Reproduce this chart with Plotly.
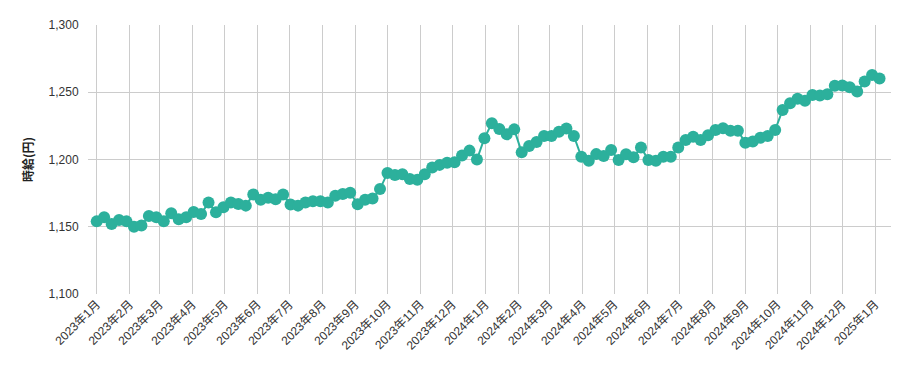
import pandas as pd
import plotly.graph_objects as go

# weekly observations starting 2023-01-01
start_date = "2023-01-01"
wage = [
    1154, 1157, 1152, 1155, 1154, 1150, 1151, 1158, 1157, 1154,
    1160, 1155.5, 1157, 1161, 1159.5, 1168, 1160.7, 1164.5, 1168, 1167,
    1165.7, 1174, 1170, 1171.6, 1170.4, 1174, 1166.5, 1165.7, 1168, 1169,
    1169, 1168, 1173, 1174.4, 1175.3, 1166.7, 1170, 1171, 1178, 1190,
    1188.5, 1189, 1185.5, 1185, 1189, 1194, 1196, 1197.6, 1198, 1203,
    1206.6, 1200, 1215.8, 1227, 1222.7, 1218.7, 1222.4, 1205.3, 1210, 1213,
    1217.5, 1217.5, 1220.7, 1223, 1217.5, 1202, 1199, 1204, 1202.6, 1207,
    1199.6, 1203.9, 1201.6, 1209, 1199.6, 1199, 1202, 1202, 1209, 1214.5,
    1217, 1214.5, 1218, 1222, 1223.2, 1221.4, 1221.4, 1212.5, 1213.3, 1216.2,
    1217.5, 1222, 1236.8, 1241.8, 1245.2, 1243.7, 1248, 1247.5, 1248.5, 1254.9,
    1255, 1253.7, 1250.5, 1258, 1262.8, 1260.3,
]
dates = pd.date_range(start_date, periods=len(wage), freq="7D")

month_ticks = pd.date_range("2023-01-01", "2025-01-01", freq="MS")
month_labels = [f"{d.year}年{d.month}月" for d in month_ticks]

y_ticks = [1100, 1150, 1200, 1250, 1300]

color = "#2cb09c"
font_family = "Liberation Sans, Arial, Noto Sans CJK JP, sans-serif"

fig = go.Figure(
    go.Scatter(
        x=dates,
        y=wage,
        mode="lines+markers",
        line=dict(color=color, width=2),
        marker=dict(color=color, size=12),
        showlegend=False,
    )
)

fig.update_layout(
    width=909,
    height=371,
    margin=dict(l=88, r=18, t=25, b=77),
    paper_bgcolor="white",
    plot_bgcolor="white",
    font=dict(family=font_family, size=12, color="#333333"),
)

fig.update_xaxes(
    automargin=False,
    range=["2022-12-23T20:00", "2025-01-15T18:00"],
    tickvals=month_ticks,
    ticktext=month_labels,
    tickangle=-45,
    showgrid=True,
    gridcolor="#cccccc",
    gridwidth=1,
    showline=False,
    zeroline=False,
    ticks="",
    tickfont=dict(size=12, color="#333333"),
)

fig.update_yaxes(
    automargin=False,
    range=[1100, 1300],
    tickvals=y_ticks,
    tickformat=",",
    showgrid=True,
    gridcolor="#cccccc",
    gridwidth=1,
    zeroline=False,
    showline=False,
    ticks="outside",
    ticklen=6,
    tickcolor="white",
    tickfont=dict(size=12, color="#333333"),
    title=dict(
        text="<b>時給(円)</b>",
        font=dict(size=12, color="#222222", family="Noto Sans CJK JP, sans-serif"),
        standoff=12,
    ),
)

fig.write_html(
    "out.html",
    config={"displayModeBar": False},
    post_script="document.body.style.margin='0';document.body.style.padding='0';document.body.style.overflow='hidden';",
)
